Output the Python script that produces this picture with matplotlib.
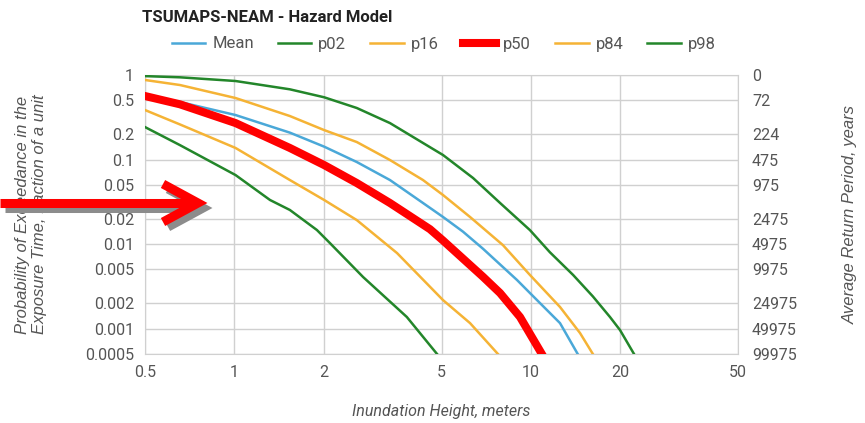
import numpy as np
import matplotlib.pyplot as plt
from matplotlib.lines import Line2D

# curves (inundation height [m], probability of exceedance)
mean_x = [0.5, 0.656, 1.01, 1.54, 2.01, 2.59, 3.35, 4.33, 5.06, 5.91, 6.90, 8.99, 9.94, 12.55, 14.4]
mean_y = [0.58, 0.479, 0.336, 0.208, 0.142, 0.0934, 0.0572, 0.0306, 0.0209, 0.0140, 0.0088, 0.00375,
          0.00263, 0.00116, 0.0005]

p02_x = [0.5, 0.656, 1.01, 1.32, 1.54, 1.90, 2.10, 2.72, 3.82, 4.83]
p02_y = [0.242, 0.148, 0.0655, 0.0332, 0.0253, 0.01465, 0.0103, 0.00407, 0.00137, 0.0005]

p16_x = [0.5, 0.656, 1.01, 1.54, 2.01, 2.59, 3.54, 5.06, 6.24, 7.75]
p16_y = [0.385, 0.26, 0.137, 0.0572, 0.0332, 0.0192, 0.00782, 0.00217, 0.00116, 0.0005]

p50_x = [0.5, 0.656, 1.01, 1.54, 2.01, 2.59, 3.35, 4.57, 5.06, 6.90, 7.88, 9.2, 10.9]
p50_y = [0.564, 0.45, 0.270, 0.137, 0.086, 0.0527, 0.0306, 0.0150, 0.0110, 0.0041, 0.00263, 0.00137, 0.0005]

p84_x = [0.5, 0.656, 1.01, 1.54, 2.01, 2.59, 3.35, 4.33, 5.06, 6.24, 8.06, 9.94, 12.55, 14.66, 16.2]
p84_y = [0.873, 0.761, 0.534, 0.327, 0.223, 0.161, 0.0987, 0.0572, 0.038, 0.0209, 0.0097, 0.0043, 0.0018,
         0.000885, 0.0005]

p98_x = [0.5, 0.656, 1.01, 1.54, 2.01, 2.59, 3.35, 4.33, 5.06, 6.39, 7.88, 9.94, 11.6, 13.9, 16.2, 18.5,
         20.0, 22.3]
p98_y = [0.97, 0.939, 0.849, 0.677, 0.545, 0.407, 0.270, 0.157, 0.113, 0.0604, 0.0306, 0.0146, 0.0080,
         0.0043, 0.0024, 0.00137, 0.00096, 0.0005]

prob_ticks = [1, 0.5, 0.2, 0.1, 0.05, 0.02, 0.01, 0.005, 0.002, 0.001, 0.0005]
prob_labels = ['1', '0.5', '0.2', '0.1', '0.05', '0.02', '0.01', '0.005', '0.002', '0.001', '0.0005']
period_labels = ['0', '72', '224', '475', '975', '2475', '4975', '9975', '24975', '49975', '99975']
height_ticks = [0.5, 1, 2, 5, 10, 20, 50]
height_labels = ['0.5', '1', '2', '5', '10', '20', '50']

plt.rcParams['font.family'] = ['Roboto', 'DejaVu Sans']

blue = '#4aa8d8'
green = '#23862a'
orange = '#f5b335'
red = '#ff0000'
txt = '#555555'

fig = plt.figure(figsize=(8.65, 4.23), dpi=100)
ax = fig.add_axes([145 / 865, 1 - 354 / 423, (738 - 145) / 865, (354 - 75) / 423])

ax.plot(mean_x, mean_y, color=blue, lw=1.8, label='Mean', zorder=3)
ax.plot(p02_x, p02_y, color=green, lw=1.8, label='p02', zorder=3)
ax.plot(p16_x, p16_y, color=orange, lw=1.8, label='p16', zorder=3)
ax.plot(p50_x, p50_y, color=red, lw=5.8, label='p50', zorder=4)
ax.plot(p84_x, p84_y, color=orange, lw=1.8, label='p84', zorder=3)
ax.plot(p98_x, p98_y, color=green, lw=1.8, label='p98', zorder=3)

ax.set_xscale('log')
ax.set_yscale('log')
ax.set_xlim(0.5, 50)
ax.set_ylim(0.0005, 1)
ax.set_xticks(height_ticks)
ax.set_xticklabels(height_labels)
ax.set_yticks(prob_ticks)
ax.set_yticklabels(prob_labels)
ax.minorticks_off()
ax.grid(True, color='#d0d0d0', lw=1)
ax.set_axisbelow(True)
for s in ax.spines.values():
    s.set_color('#d0d0d0')
ax.tick_params(length=0, labelsize=11.5, colors=txt, pad=8)

ax2 = ax.twinx()
ax2.set_yscale('log')
ax2.set_ylim(0.0005, 1)
ax2.set_yticks(prob_ticks)
ax2.set_yticklabels(period_labels)
ax2.minorticks_off()
for s in ax2.spines.values():
    s.set_visible(False)
ax2.tick_params(length=0, labelsize=11.5, colors=txt, pad=10)

ax.set_xlabel('Inundation Height, meters', style='italic', fontsize=11.5, color=txt, labelpad=17)
ax.set_ylabel('Probability of Exceedance in the\nExposure Time, fraction of a unit',
              style='italic', fontsize=12, color=txt, family='Liberation Sans', labelpad=27)
ax2.set_ylabel('Average Return Period, years', style='italic', fontsize=12, color=txt,
               family='Liberation Sans', labelpad=33)

fig.text(142 / 865, 1 - 17 / 423, 'TSUMAPS-NEAM - Hazard Model', fontsize=12, fontweight='bold',
         color='#222222', va='center', ha='left')
fig.legend(loc='center', bbox_to_anchor=(0.513, 1 - 44 / 423), ncol=6, frameon=False,
           fontsize=12, handlelength=2.0, columnspacing=1.45, handletextpad=0.42, labelcolor=txt)

# red arrow overlay with grey shadow
def px(x, y):
    return x / 865, 1 - y / 423

for dx, dy, col, z in [(5, 5, '#8c8c8c', 10), (0, 0, red, 11)]:
    xs, ys = zip(px(0 + dx, 203 + dy), px(196 + dx, 203 + dy))
    fig.add_artist(Line2D(xs, ys, color=col, lw=6.5, solid_capstyle='butt', zorder=z))
    xs, ys = zip(px(163 + dx, 184 + dy), px(198 + dx, 203 + dy), px(163 + dx, 222 + dy))
    fig.add_artist(Line2D(xs, ys, color=col, lw=6.5, solid_joinstyle='miter',
                          solid_capstyle='butt', zorder=z))

fig.savefig('out.png', dpi=100)
